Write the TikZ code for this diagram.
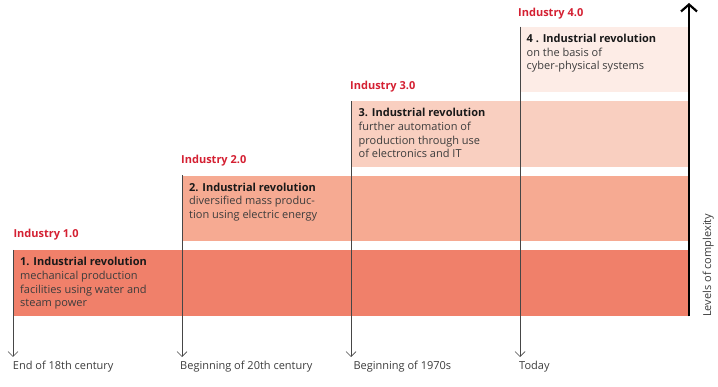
\documentclass[tikz,border=0pt]{standalone}
\usepackage{fontspec}
\setmainfont{Open Sans}
\usetikzlibrary{arrows.meta}
\definecolor{bandA}{RGB}{240,128,106}
\definecolor{bandB}{RGB}{246,170,146}
\definecolor{bandC}{RGB}{249,207,192}
\definecolor{bandD}{RGB}{253,236,230}
\definecolor{indred}{RGB}{212,32,50}
\definecolor{bodytxt}{RGB}{60,60,60}
\definecolor{timeline}{RGB}{70,70,70}
\tikzset{
  band/.style={draw=none, rectangle, inner sep=0pt, anchor=north west, minimum height=65.5pt},
  indlabel/.style={anchor=base west, inner sep=0pt, text=indred, font=\fontsize{11}{13.5}\selectfont\bfseries},
  bandtext/.style={anchor=north west, inner sep=0pt, align=left, text=bodytxt, font=\fontsize{11}{13.6}\selectfont},
  datelabel/.style={anchor=base west, inner sep=0pt, text=bodytxt, font=\fontsize{11}{13.5}\selectfont},
  timearrow/.style={draw=timeline, line width=0.7pt, -{Straight Barb[length=5pt,width=10pt,line width=0.7pt]}},
  axisarrow/.style={draw=black, line width=2.6pt, -{Straight Barb[length=7pt,width=16pt,line width=2.2pt]}}
}
\newcommand{\revtitle}[1]{{\color{black!90}\bfseries #1}}
\begin{document}
\begin{tikzpicture}[x=1pt,y=-1pt]
\useasboundingbox (0,0) rectangle (718,387);
% bands
\node[band, fill=bandA, minimum width=676pt] (b1) at (13,250) {};
\node[band, fill=bandB, minimum width=507pt] (b2) at (182,175.5) {};
\node[band, fill=bandC, minimum width=338pt] (b3) at (351,101) {};
\node[band, fill=bandD, minimum width=169pt] (b4) at (520,26.7) {};
% band texts
\node[bandtext] (t1) at (20,257.3) {\revtitle{1. Industrial revolution}\\mechanical production\\facilities using water and\\steam power};
\node[bandtext] (t2) at (189,182.6) {\revtitle{2. Industrial revolution}\\diversified mass produc-\\tion using electric energy};
\node[bandtext] (t3) at (358.5,108.3) {\revtitle{3. Industrial revolution}\\further automation of\\production through use\\of electronics and IT};
\node[bandtext] (t4) at (526.5,33.9) {\revtitle{4 . Industrial revolution}\\on the basis of\\cyber-physical systems};
% industry labels
\node[indlabel] (i1) at (13.3,237.7) {Industry 1.0};
\node[indlabel] (i2) at (181,164) {Industry 2.0};
\node[indlabel] (i3) at (350,89.3) {Industry 3.0};
\node[indlabel] (i4) at (518,16.7) {Industry 4.0};
% timeline ends
\coordinate (e1) at (13,357);
\coordinate (e2) at (182,357);
\coordinate (e3) at (351,357);
\coordinate (e4) at (520,357);
\draw[timearrow] (b1.north west) -- (e1);
\draw[timearrow] (b2.north west) -- (e2);
\draw[timearrow] (b3.north west) -- (e3);
\draw[timearrow] (b4.north west) -- (e4);
% date labels
\node[datelabel] (d1) at (12.7,370) {End of 18th century};
\node[datelabel] (d2) at (180,370) {Beginning of 20th century};
\node[datelabel] (d3) at (353.3,370) {Beginning of 1970s};
\node[datelabel] (d4) at (519,370) {Today};
% complexity axis
\coordinate (axbot) at (689,316.5);
\coordinate (axtop) at (689,3);
\draw[axisarrow] (axbot) -- (axtop);
\node[datelabel, rotate=90, anchor=base west] (ax) at (711,317) {Levels of complexity};
\end{tikzpicture}
\end{document}
